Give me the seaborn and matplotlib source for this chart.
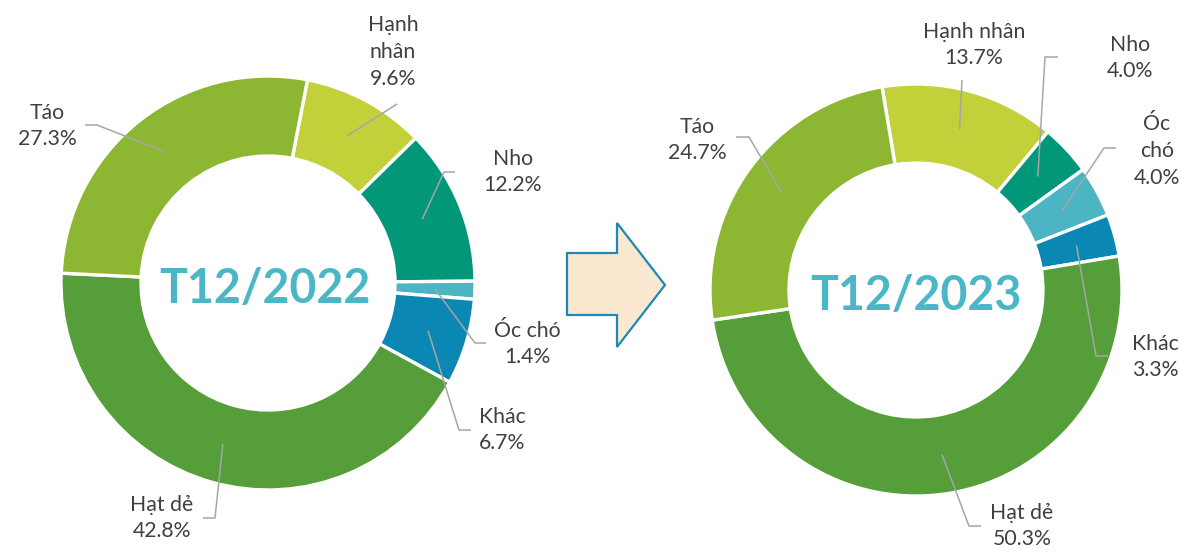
import numpy as np
import matplotlib.pyplot as plt
import seaborn as sns
from matplotlib.patches import Polygon

# data
categories = ["Hạnh nhân", "Nho", "Óc chó", "Khác", "Hạt dẻ", "Táo"]
share_2022 = [9.6, 12.2, 1.4, 6.7, 42.8, 27.3]
share_2023 = [13.7, 4.0, 4.0, 3.3, 50.3, 24.7]
period_labels = ["T12/2022", "T12/2023"]
colors = ["#C2D13A", "#03977A", "#4BB5C4", "#0A88B3", "#559E3A", "#8DB733"]

W, H = 1180, 552

sns.set_theme(style="white")
plt.rcParams['font.family'] = ['Lato', 'DejaVu Sans']

fig = plt.figure(figsize=(11.8, 5.52), dpi=100)
ax = fig.add_axes([0, 0, 1, 1])
ax.set_xlim(0, W)
ax.set_ylim(0, H)
ax.set_aspect('equal')
ax.axis('off')


def P(x, y):
    # picture pixel -> axes units (y up)
    return (x, H - y)


charts = [
    dict(values=share_2022, title=period_labels[0], center=(268, 283), r=207, width=80, start=79,
         baseline=(265, 303),
         wrap={"Hạnh nhân": "Hạnh\nnhân"},
         text=[(393, 52), (513, 172), (527, 344), (502, 430), (162, 518), (47, 126)],
         tails=[[(397, 104)], [(444, 172), (455, 172)], [(475, 343), (486, 343)],
                [(459, 430), (471, 430)], [(215, 518), (203, 518)], [(97, 125), (85, 125)]]),
    dict(values=share_2023, title=period_labels[1], center=(916, 290), r=206, width=79, start=99.5,
         baseline=(916, 310),
         wrap={"Óc chó": "Óc\nchó"},
         text=[(974, 45), (1130, 58), (1157, 151), (1155, 357), (1022, 526), (697, 140)],
         tails=[[(962, 80)], [(1045, 57), (1058, 57)], [(1104, 148), (1116, 148)],
                [(1096, 356), (1108, 356)], [(969, 526), (981, 526)], [(749, 137), (736, 137)]]),
]

for ch in charts:
    cx, cy = P(*ch['center'])
    wedges, _ = ax.pie(ch['values'], colors=colors, center=(cx, cy), radius=ch['r'],
                       startangle=ch['start'], counterclock=False, frame=True,
                       wedgeprops=dict(width=ch['width'], edgecolor='white', linewidth=2.4))
    r_mid = ch['r'] - ch['width'] / 2
    for i, w in enumerate(wedges):
        th = np.deg2rad((w.theta1 + w.theta2) / 2)
        anchor = (cx + r_mid * np.cos(th), cy + r_mid * np.sin(th))
        pts = [anchor] + [P(*p) for p in ch['tails'][i]]
        ax.plot([p[0] for p in pts], [p[1] for p in pts], color='#A6A6A6', lw=1.1,
                solid_capstyle='butt', zorder=3)
        name = ch['wrap'].get(categories[i], categories[i])
        tx, ty = P(*ch['text'][i])
        ax.text(tx, ty, f"{name}\n{ch['values'][i]:.1f}%", ha='center', va='center',
                fontsize=15.3, color='#404040', linespacing=1.42, zorder=4)
    bx, by = P(*ch['baseline'])
    ax.text(bx, by, ch['title'], ha='center', va='baseline', fontsize=33.5,
            fontweight='bold', color='#4BB6C6', zorder=4)

# block arrow between the two donuts
arrow = Polygon([P(567, 253), P(617, 253), P(617, 223), P(665, 285),
                 P(617, 347), P(617, 315), P(567, 315)], closed=True,
                facecolor='#FBE8D0', edgecolor='#1A8AB5', linewidth=1.6, zorder=2)
ax.add_patch(arrow)

ax.set_xlim(0, W)
ax.set_ylim(0, H)
fig.savefig('out.png', dpi=100)
